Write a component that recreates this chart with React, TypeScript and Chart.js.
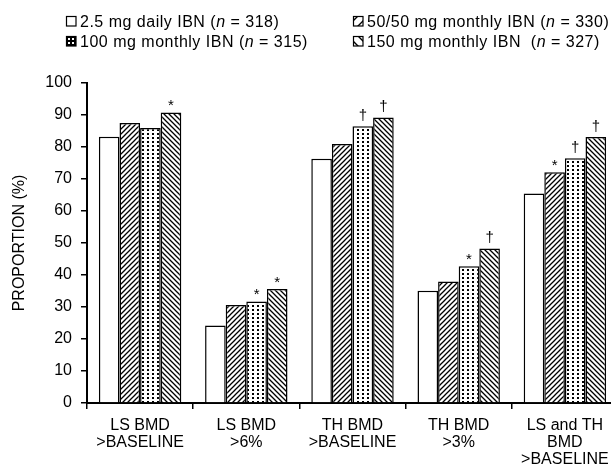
import React, { useEffect, useRef } from "react";
import { Chart, registerables } from "chart.js";

Chart.register(...registerables);

// ---- data ----
const categories: string[][] = [
  ["LS BMD", ">BASELINE"],
  ["LS BMD", ">6%"],
  ["TH BMD", ">BASELINE"],
  ["TH BMD", ">3%"],
  ["LS and TH", "BMD", ">BASELINE"],
];
const seriesNames = ["2.5 mg daily IBN", "50/50 mg monthly IBN", "100 mg monthly IBN", "150 mg monthly IBN "];
const seriesN = ["318", "330", "315", "327"];
const daily25 = [83.2, 24.2, 76.3, 35.1, 65.5];
const monthly5050 = [87.5, 30.6, 80.9, 38.0, 72.1];
const monthly100 = [85.9, 31.7, 86.5, 42.7, 76.5];
const monthly150 = [90.8, 35.6, 89.2, 48.3, 83.1];
const marks25 = ["", "", "", "", ""];
const marks5050 = ["", "", "", "", "*"];
const marks100 = ["", "*", "†", "*", "†"];
const marks150 = ["*", "*", "†", "†", "†"];
const yMin = 0;
const yMax = 100;
const yStep = 10;
const yTitle = "PROPORTION (%)";

const FONT = '"Liberation Sans", Arial, Helvetica, sans-serif';

type Kind = "plain" | "fwd" | "dots" | "back";

function makePattern(ctx: CanvasRenderingContext2D, kind: Kind): CanvasPattern | string {
  if (kind === "plain") return "#ffffff";
  const c = document.createElement("canvas");
  const s = 5;
  c.width = s;
  c.height = kind === "dots" ? 4 : s;
  const g = c.getContext("2d")!;
  g.fillStyle = "#ffffff";
  g.fillRect(0, 0, c.width, c.height);
  g.fillStyle = "#000";
  g.strokeStyle = "#000";
  if (kind === "dots") {
    g.fillRect(2, 1, 2, 2);
  } else {
    g.lineWidth = 1.3;
    g.beginPath();
    if (kind === "fwd") {
      for (let k = -1; k <= 1; k++) {
        g.moveTo(-1 + k * s, s + 1);
        g.lineTo(s + 1 + k * s, -1);
      }
    } else {
      for (let k = -1; k <= 1; k++) {
        g.moveTo(-1 + k * s, -1);
        g.lineTo(s + 1 + k * s, s + 1);
      }
    }
    g.stroke();
  }
  return ctx.createPattern(c, "repeat")!;
}

const kinds: Kind[] = ["plain", "fwd", "dots", "back"];
const allMarks = [marks25, marks5050, marks100, marks150];

export default function App() {
  const ref = useRef<HTMLCanvasElement | null>(null);

  useEffect(() => {
    const canvas = ref.current!;
    const ctx = canvas.getContext("2d")!;
    const fills = kinds.map((k) => makePattern(ctx, k));
    const values = [daily25, monthly5050, monthly100, monthly150];

    const marksPlugin = {
      id: "marks",
      afterDatasetsDraw(chart: any) {
        const c = chart.ctx as CanvasRenderingContext2D;
        chart.data.datasets.forEach((_: any, i: number) => {
          const meta = chart.getDatasetMeta(i);
          const marks = allMarks[i];
          meta.data.forEach((bar: any, j: number) => {
            const m = marks[j];
            if (!m) return;
            c.save();
            c.font = `15px ${FONT}`;
            c.fillStyle = "#000";
            c.textAlign = "center";
            c.textBaseline = "alphabetic";
            c.fillText(m, bar.x, bar.y - (m === "*" ? 2.5 : 6.5));
            c.restore();
          });
        });
      },
    };

    const drawSwatch = (c: CanvasRenderingContext2D, kind: Kind, bx: number, by: number) => {
      const w = 10;
      c.save();
      c.fillStyle = "#fff";
      c.fillRect(bx, by, w, w);
      c.beginPath();
      c.rect(bx, by, w, w);
      c.clip();
      c.strokeStyle = "#000";
      c.fillStyle = "#000";
      c.lineWidth = 1.4;
      if (kind === "dots") {
        c.fillRect(bx, by, w, w);
        c.fillStyle = "#fff";
        c.fillRect(bx + 2, by + 2, 2, 2);
        c.fillRect(bx + 6, by + 2, 2, 2);
        c.fillRect(bx + 2, by + 6, 2, 2);
        c.fillRect(bx + 6, by + 6, 2, 2);
      } else if (kind === "fwd") {
        c.beginPath();
        c.moveTo(bx - 1, by + 6);
        c.lineTo(bx + 6, by - 1);
        c.moveTo(bx + 4, by + 11);
        c.lineTo(bx + 11, by + 4);
        c.stroke();
      } else if (kind === "back") {
        c.beginPath();
        c.moveTo(bx - 1, by + 4);
        c.lineTo(bx + 6, by + 11);
        c.moveTo(bx + 4, by - 1);
        c.lineTo(bx + 11, by + 6);
        c.stroke();
      }
      c.restore();
      c.save();
      c.strokeStyle = "#000";
      c.lineWidth = 1.2;
      c.strokeRect(bx + 0.5, by + 0.5, w - 0.5, w - 0.5);
      c.restore();
    };

    const legendPlugin = {
      id: "customLegend",
      afterDraw(chart: any) {
        const c = chart.ctx as CanvasRenderingContext2D;
        const cols = [[66, 80], [353, 367]];
        const rows = [16, 36];
        [0, 1, 2, 3].forEach((si, idx) => {
          const [bx, tx] = cols[idx % 2];
          const by = rows[Math.floor(idx / 2)];
          drawSwatch(c, kinds[si], bx, by);
          c.save();
          c.fillStyle = "#000";
          c.textAlign = "left";
          c.textBaseline = "alphabetic";
          (c as any).letterSpacing = "0.5px";
          let x = tx;
          const y = by + 11;
          const parts: [string, boolean][] = [
            [seriesNames[si] + " (", false],
            ["n", true],
            [" = " + seriesN[si] + ")", false],
          ];
          parts.forEach(([t, it]) => {
            c.font = `${it ? "italic " : ""}16px ${FONT}`;
            c.fillText(t, x, y);
            x += c.measureText(t).width;
          });
          c.restore();
        });
      },
    };

    const chart = new Chart(canvas, {
      type: "bar",
      data: {
        labels: categories,
        datasets: values.map((v, i) => ({
          label: seriesNames[i],
          data: v,
          backgroundColor: fills[i] as any,
          borderColor: "#000",
          borderWidth: 1.5,
          borderSkipped: "bottom",
          categoryPercentage: 0.776,
          barPercentage: 1,
        })),
      },
      options: {
        responsive: false,
        animation: false,
        devicePixelRatio: 1,
        layout: { padding: { top: 83, right: 22, bottom: 0, left: 0 } },
        plugins: {
          legend: { display: false },
          tooltip: { enabled: false },
        },
        scales: {
          x: {
            offset: true,
            afterFit: (s: any) => {
              s.height = 61;
            },
            grid: {
              display: true,
              offset: true,
              drawOnChartArea: false,
              drawTicks: true,
              tickLength: 6,
              color: "#000",
              lineWidth: 1.5,
            },
            border: { display: true, color: "#000", width: 2 },
            ticks: {
              color: "#000",
              maxRotation: 0,
              autoSkip: false,
              padding: 8,
              font: { family: FONT, size: 16, lineHeight: 1.06 },
            },
          },
          y: {
            min: yMin,
            max: yMax,
            afterFit: (s: any) => {
              s.width = 87;
            },
            grid: {
              display: true,
              drawOnChartArea: false,
              drawTicks: true,
              tickLength: 6,
              color: "#000",
              lineWidth: 1.5,
            },
            border: { display: true, color: "#000", width: 2 },
            ticks: {
              stepSize: yStep,
              color: "#000",
              padding: 9,
              font: { family: FONT, size: 16 },
            },
            title: {
              display: true,
              text: yTitle,
              color: "#000",
              padding: { top: 10, bottom: 0 },
              font: { family: FONT, size: 16 },
            },
          },
        },
      },
      plugins: [marksPlugin, legendPlugin],
    });
    return () => chart.destroy();
  }, []);

  return (
    <div
      style={{
        position: "absolute",
        left: 0,
        top: 0,
        width: 611,
        height: 464,
        overflow: "hidden",
        background: "#fff",
      }}
    >
      <canvas ref={ref} width={640} height={464} style={{ display: "block" }} />
    </div>
  );
}
